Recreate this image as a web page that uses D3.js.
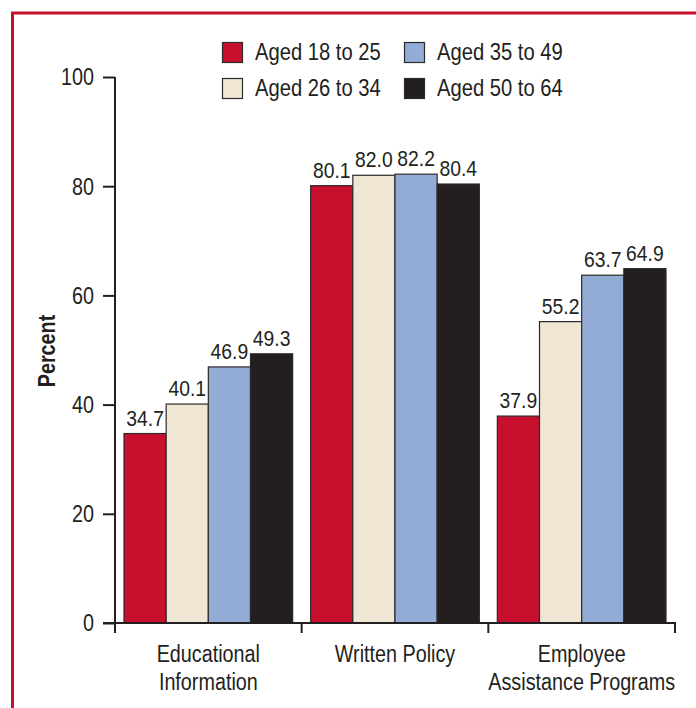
<!DOCTYPE html>
<html><head><meta charset="utf-8">
<script src="https://cdn.jsdelivr.net/npm/d3@7"></script>
<style>
html,body{margin:0;padding:0;background:#fff;}
svg text{font-family:"Liberation Sans",Arial,sans-serif;fill:#231f20;}
</style></head>
<body>
<svg id="chart" width="696" height="708"></svg>
<script>
const categories = [["Educational","Information"],["Written Policy"],["Employee","Assistance Programs"]];
const categoryKeys = ["Educational Information","Written Policy","Employee Assistance Programs"];
const seriesNames = ["Aged 18 to 25","Aged 26 to 34","Aged 35 to 49","Aged 50 to 64"];
const aged18to25 = [34.7, 80.1, 37.9];
const aged26to34 = [40.1, 82.0, 55.2];
const aged35to49 = [46.9, 82.2, 63.7];
const aged50to64 = [49.3, 80.4, 64.9];
const yTicks = [0,20,40,60,80,100];
const colors = ["#c8102e","#efe6d4","#93acd6","#231f20"];

const seriesValues = [aged18to25, aged26to34, aged35to49, aged50to64];
const svg = d3.select("#chart");
const ink = "#231f20";
const SX = 0.86; // condensed look

function condensed(sel, x, y) {
  sel.attr("x", 0).attr("y", 0)
     .attr("transform", function(d, i) {
       const xx = typeof x === "function" ? x(d, i) : x;
       const yy = typeof y === "function" ? y(d, i) : y;
       return `translate(${xx},${yy}) scale(${SX},1)`;
     });
  return sel;
}

// frame
svg.append("path").attr("d","M12.5,708V13H696").attr("fill","none")
  .attr("stroke","#c8102e").attr("stroke-width",3);

const x0 = d3.scaleBand().domain(categoryKeys).range([115,675]).padding(0);
const x1 = d3.scaleBand().domain(seriesNames).range([9, x0.bandwidth()-9]).padding(0);
const y = d3.scaleLinear().domain([0,100]).range([623,77]);

// bars
const groups = svg.append("g").selectAll("g").data(categoryKeys).join("g")
  .attr("transform", d => `translate(${x0(d)},0)`);
groups.each(function(cat, ci){
  const g = d3.select(this);
  const rows = seriesNames.map((s, si) => ({s, v: seriesValues[si][ci], c: colors[si]}));
  g.selectAll("rect").data(rows).join("rect")
    .attr("x", d => x1(d.s)).attr("width", x1.bandwidth())
    .attr("y", d => y(d.v)).attr("height", d => y(0) - y(d.v))
    .attr("fill", d => d.c).attr("stroke", "#2a2a2a").attr("stroke-width", 1.2);
  const t = g.selectAll("text").data(rows).join("text")
    .attr("text-anchor","middle").attr("font-size", 22.5)
    .text(d => d.v.toFixed(1));
  condensed(t, d => x1(d.s) + x1.bandwidth()/2, d => y(d.v) - 8);
});

// y axis
const yAxis = svg.append("g").attr("transform","translate(115,0)")
  .call(d3.axisLeft(y).tickValues(yTicks).tickSize(12).tickPadding(9).tickFormat(d3.format("d")));
yAxis.select(".domain").attr("d","M0,77V633").attr("stroke",ink).attr("stroke-width",2);
yAxis.selectAll(".tick line").attr("stroke",ink).attr("stroke-width",2);
yAxis.selectAll(".tick text").attr("font-size",23).attr("fill",ink)
  .style("font-family",'"Liberation Sans",Arial,sans-serif')
  .attr("x", null).attr("dy", "0.34em")
  .attr("transform", `translate(-21,0) scale(${SX},1)`);

// x axis
const xAxis = svg.append("g").attr("transform","translate(0,623)");
xAxis.append("line").attr("x1",103).attr("x2",676).attr("y1",0).attr("y2",0)
  .attr("stroke",ink).attr("stroke-width",2);
const sepPositions = categoryKeys.map(k => x0(k)).concat([x0.range()[1]]);
xAxis.selectAll("line.sep").data(sepPositions.slice(1)).join("line").attr("class","sep")
  .attr("x1", d => d).attr("x2", d => d).attr("y1", 0).attr("y2", 10)
  .attr("stroke",ink).attr("stroke-width",2);
categoryKeys.forEach((k, i) => {
  const cx = x0(k) + x0.bandwidth()/2;
  const t = xAxis.append("text").attr("text-anchor","middle").attr("font-size",23)
    .attr("transform", `translate(${cx},39) scale(${SX},1)`);
  categories[i].forEach((line, li) => {
    t.append("tspan").attr("x", 0).attr("dy", li === 0 ? 0 : 28).text(line);
  });
});

// y label
svg.append("text").attr("transform",`translate(55,351) rotate(-90) scale(${SX},1)`)
  .attr("text-anchor","middle").attr("font-size",23).attr("font-weight","bold").text("Percent");

// legend
const legendPos = [[222,42],[222,78],[404,42],[404,78]];
const leg = svg.append("g").selectAll("g").data(seriesNames).join("g")
  .attr("transform",(d,i) => `translate(${legendPos[i][0]},${legendPos[i][1]})`);
leg.append("rect").attr("x",0.5).attr("y",0.5).attr("width",20).attr("height",20)
  .attr("fill",(d,i) => colors[i]).attr("stroke","#2a2a2a").attr("stroke-width",1.2);
condensed(leg.append("text").attr("font-size",23.5).text(d => d), 33, 18);
</script>
</body></html>
